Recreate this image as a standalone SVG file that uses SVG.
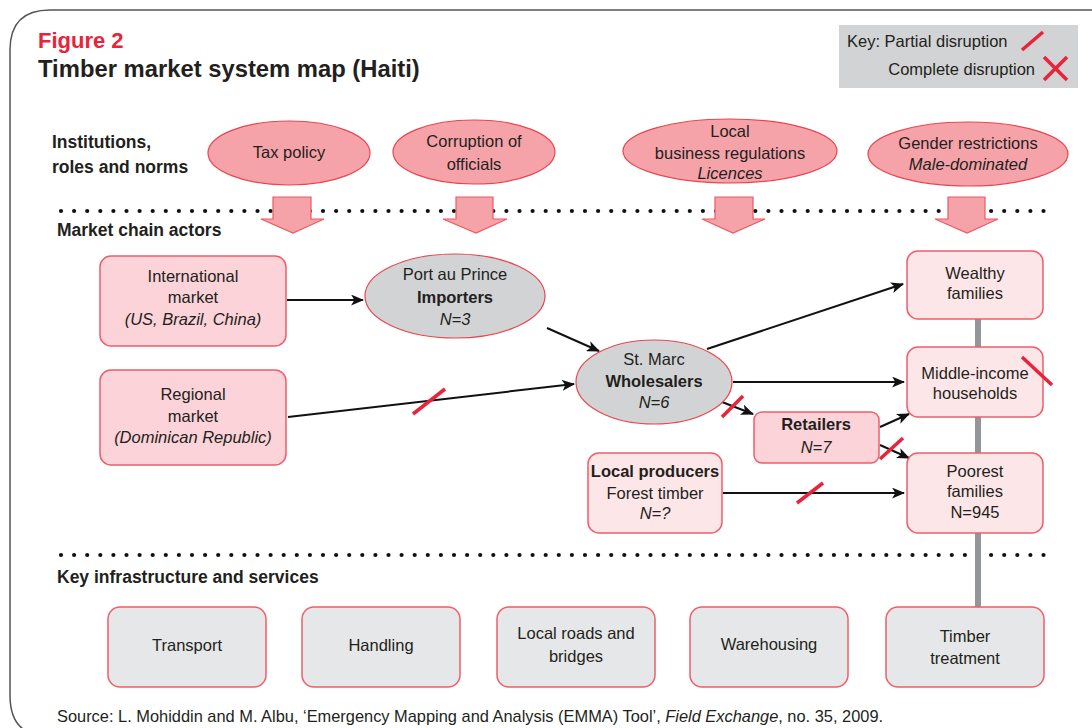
<svg xmlns="http://www.w3.org/2000/svg" width="1092" height="728" viewBox="0 0 1092 728">
<style>
text{font-family:"Liberation Sans",Arial,sans-serif;fill:#231f20}
.n{font-size:16.5px;text-anchor:middle}
.b{font-weight:bold}
.i{font-style:italic}
.sec{font-size:17.5px;font-weight:bold}
.inst{fill:#f5a3a9;stroke:#e8464f;stroke-width:1.2}
.barr{fill:#f5a3a9;stroke:#ec5a63;stroke-width:1.2}
.gell{fill:#d1d3d4;stroke:#e8464f;stroke-width:1.2}
.pbox{fill:#fbd3d8;stroke:#ee5f69;stroke-width:1.5}
.lbox{fill:#fde6e8;stroke:#ee5f69;stroke-width:1.5}
.ibox{fill:#e6e7e8;stroke:#ee5f69;stroke-width:1.5}
.con{stroke:#111;stroke-width:2;fill:none;marker-end:url(#ah)}
.dis{stroke:#e8233a;stroke-width:3.5;fill:none}
.dots{stroke:#111;stroke-width:4.2;stroke-linecap:round;stroke-dasharray:0 13.1}
</style>
<defs>
<marker id="ah" viewBox="0 0 12 10" refX="11" refY="5" markerWidth="6.5" markerHeight="5.5" orient="auto" markerUnits="strokeWidth">
<path d="M0,0 L12,5 L0,10 L3,5 Z" fill="#111"/>
</marker>
</defs>
<rect width="1092" height="728" fill="#fff"/>
<path d="M1092,10 L50,10 Q10,10 10,50 L10,695 Q10,732 40,735" fill="none" stroke="#555" stroke-width="1.5"/>

<text x="38" y="48" style="font-size:22px;font-weight:bold;fill:#e8233a">Figure 2</text>
<text x="38" y="77" style="font-size:23.8px;font-weight:bold">Timber market system map (Haiti)</text>

<g id="key">
<rect x="839" y="25" width="239" height="63" fill="#d1d3d4"/>
<text x="847" y="47" style="font-size:16.5px">Key: Partial disruption</text>
<text x="1035" y="75" style="font-size:16.5px;text-anchor:end">Complete disruption</text>
<line x1="1022" y1="50" x2="1043" y2="32" class="dis"/>
<line x1="1044" y1="57" x2="1067" y2="80" class="dis"/>
<line x1="1067" y1="57" x2="1044" y2="80" class="dis"/>
</g>

<text x="52" y="148" class="sec">Institutions,</text>
<text x="52" y="173" class="sec">roles and norms</text>
<text x="57" y="236" class="sec">Market chain actors</text>
<text x="57" y="583" class="sec">Key infrastructure and services</text>

<line x1="61" y1="211" x2="1052" y2="211" class="dots"/>
<line x1="61" y1="555" x2="1052" y2="555" class="dots"/>

<rect x="975" y="300" width="6" height="310" fill="#939598"/>

<g id="tax-policy">
<ellipse cx="289" cy="153" rx="81" ry="32" class="inst"/>
<text x="289" y="158" class="n">Tax policy</text>
<path d="M273,197 H311 V219 H324 L293,233 L261,219 H273 Z" class="barr"/>
</g>
<g id="corruption">
<ellipse cx="474" cy="152" rx="81" ry="32" class="inst"/>
<text x="474" y="147" class="n">Corruption of</text>
<text x="474" y="170" class="n">officials</text>
<path d="M456,197 H493 V219 H507 L476,233 L443,219 H456 Z" class="barr"/>
</g>
<g id="local-business">
<ellipse cx="730" cy="151" rx="107" ry="32" class="inst"/>
<text x="730" y="137" class="n">Local</text>
<text x="730" y="159" class="n">business regulations</text>
<text x="730" y="179" class="n i">Licences</text>
<path d="M715,197 H753 V219 H765 L733,233 L702,219 H715 Z" class="barr"/>
</g>
<g id="gender">
<ellipse cx="968" cy="154" rx="100" ry="32" class="inst"/>
<text x="968" y="149" class="n">Gender restrictions</text>
<text x="968" y="170" class="n i">Male-dominated</text>
<path d="M948,197 H985 V219 H998 L967,233 L935,219 H948 Z" class="barr"/>
</g>

<g id="connectors">
<line x1="287" y1="300" x2="363" y2="300" class="con"/>
<line x1="288" y1="417" x2="574" y2="384" class="con"/>
<line x1="547" y1="328" x2="599" y2="351" class="con"/>
<line x1="707" y1="349" x2="903" y2="284" class="con"/>
<line x1="733" y1="382" x2="904" y2="382" class="con"/>
<line x1="722" y1="402" x2="753" y2="414" class="con"/>
<line x1="880" y1="427" x2="909" y2="414" class="con"/>
<line x1="880" y1="445" x2="909" y2="458" class="con"/>
<line x1="723" y1="493" x2="904" y2="493" class="con"/>
<line x1="413" y1="414" x2="445" y2="389" class="dis"/>
<line x1="722" y1="417" x2="743" y2="396" class="dis"/>
<line x1="880" y1="459" x2="903" y2="438" class="dis"/>
<line x1="797" y1="503" x2="823" y2="483" class="dis"/>
</g>

<g id="international-market">
<rect x="100" y="256" width="186" height="90" rx="11" class="pbox"/>
<text x="193" y="282" class="n">International</text>
<text x="193" y="303" class="n">market</text>
<text x="193" y="325" class="n i">(US, Brazil, China)</text>
</g>
<g id="regional-market">
<rect x="100" y="370" width="186" height="95" rx="11" class="pbox"/>
<text x="193" y="400" class="n">Regional</text>
<text x="193" y="422" class="n">market</text>
<text x="193" y="443" class="n i">(Dominican Republic)</text>
</g>
<g id="importers">
<ellipse cx="455" cy="296" rx="90" ry="42" class="gell"/>
<text x="455" y="280" class="n">Port au Prince</text>
<text x="455" y="303" class="n b">Importers</text>
<text x="455" y="325" class="n i">N=3</text>
</g>
<g id="wholesalers">
<ellipse cx="654" cy="382" rx="78" ry="42" class="gell"/>
<text x="654" y="365" class="n">St. Marc</text>
<text x="654" y="387" class="n b">Wholesalers</text>
<text x="654" y="408" class="n i">N=6</text>
</g>
<g id="retailers">
<rect x="754" y="412" width="125" height="51" rx="8" class="pbox"/>
<text x="816" y="430" class="n b">Retailers</text>
<text x="816" y="453" class="n i">N=7</text>
</g>
<g id="local-producers">
<rect x="588" y="453" width="134" height="80" rx="11" class="lbox"/>
<text x="655" y="477" class="n b">Local producers</text>
<text x="655" y="499" class="n">Forest timber</text>
<text x="655" y="519" class="n i">N=?</text>
</g>
<g id="wealthy">
<rect x="907" y="251" width="136" height="68" rx="11" class="lbox"/>
<text x="975" y="279" class="n">Wealthy</text>
<text x="975" y="299" class="n">families</text>
</g>
<g id="middle-income">
<rect x="907" y="347" width="136" height="70" rx="11" class="lbox"/>
<text x="975" y="379" class="n">Middle-income</text>
<text x="975" y="399" class="n">households</text>
<line x1="1022" y1="357" x2="1052" y2="385" class="dis"/>
</g>
<g id="poorest">
<rect x="907" y="453" width="136" height="80" rx="11" class="lbox"/>
<text x="975" y="477" class="n">Poorest</text>
<text x="975" y="497" class="n">families</text>
<text x="975" y="518" class="n">N=945</text>
</g>

<g id="transport">
<rect x="108" y="607" width="158" height="80" rx="12" class="ibox"/>
<text x="187" y="651" class="n">Transport</text>
</g>
<g id="handling">
<rect x="302" y="607" width="158" height="80" rx="12" class="ibox"/>
<text x="381" y="651" class="n">Handling</text>
</g>
<g id="local-roads">
<rect x="497" y="607" width="158" height="80" rx="12" class="ibox"/>
<text x="576" y="639" class="n">Local roads and</text>
<text x="576" y="662" class="n">bridges</text>
</g>
<g id="warehousing">
<rect x="690" y="607" width="158" height="80" rx="12" class="ibox"/>
<text x="769" y="650" class="n">Warehousing</text>
</g>
<g id="timber-treatment">
<rect x="886" y="607" width="158" height="80" rx="12" class="ibox"/>
<text x="965" y="642" class="n">Timber</text>
<text x="965" y="664" class="n">treatment</text>
</g>

<text x="57" y="722" style="font-size:16.4px">Source: L. Mohiddin and M. Albu, ‘Emergency Mapping and Analysis (EMMA) Tool’, <tspan font-style="italic">Field Exchange</tspan>, no. 35, 2009.</text>
</svg>
